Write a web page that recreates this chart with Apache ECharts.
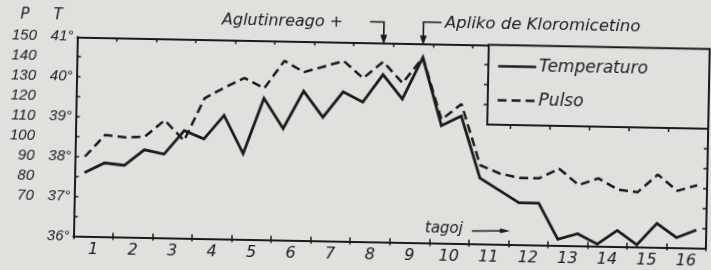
<!DOCTYPE html>
<html>
<head>
<meta charset="utf-8">
<script src="https://cdn.jsdelivr.net/npm/echarts@6/dist/echarts.min.js"></script>
<style>
html,body{margin:0;padding:0;background:#e0e0dd;overflow:hidden;width:711px;height:270px}
#c{width:711px;height:270px;transform:rotate(1.1deg);transform-origin:355.5px 135px}
</style>
</head>
<body>
<div id="c"></div>
<script>
// ---- data (two readings per day: morning, evening) ----
const days = ['1','2','3','4','5','6','7','8','9','10','11','12','13','14','15','16'];
const readings = days.flatMap(d => [d + ' matene', d + ' vespere']);
const temperature = [37.6, 37.85, 37.8, 38.2, 38.1, 38.7, 38.5, 39.1, 38.15, 39.55, 38.8, 39.75, 39.1, 39.75, 39.5, 40.2,
                     39.6, 40.65, 38.95, 39.2, 37.65, 37.35, 37.05, 37.05, 36.15, 36.3, 36.05, 36.4, 36.05, 36.6, 36.25, 36.45];
const pulse = [90, 101, 100, 100.5, 109, 99, 120.5, 126, 131, 126, 140, 134.5, 137.5, 140.5, 132, 140.5,
               130, 143, 112, 120, 89.5, 85.5, 83.5, 83.5, 88.5, 80.5, 84, 78.5, 77.5, 86.5, 78.5, 81.5];
const pulseTickLabels = ['70','80','90','100','110','120','130','140','150'];
const tempTickLabels = ['36°','37°','38°','39°','40°','41°'];
const seriesNames = ['Temperaturo', 'Pulso'];
const headerTexts = ['P', 'T'];
const noteAgglutination = 'Aglutinreago +';
const noteAntibiotic = 'Apliko de Kloromicetino';
const noteDays = 'tagoj';
const agglutinationReading = 15; // index in readings (8 vespere)
const antibioticReading = 17;    // index in readings (9 vespere)

// ---- styling ----
const INK = '#1b1b1b';
const BG = '#e0e0dd';
const TXT = "'DejaVu Sans', sans-serif";
const NUM = "'Liberation Sans', Arial, sans-serif";
const G = {left: 75.5, top: 42.3, width: 632.5, height: 199.1};

const th = 1.1 * Math.PI / 180, S = Math.sin(th), C = Math.cos(th), CX = 355.5, CY = 135;
function U(x, y) { const dx = x - CX, dy = y - CY; return [CX + dx * C + dy * S, CY - dx * S + dy * C]; }

const axisLine = {show: true, lineStyle: {color: INK, width: 2}};
const chart = echarts.init(document.getElementById('c'), null, {renderer: 'canvas'});

const option = {
  backgroundColor: BG,
  animation: false,
  grid: {left: G.left, top: G.top, width: G.width, height: G.height, containLabel: false, outerBoundsMode: 'none'},
  legend: {
    data: seriesNames, orient: 'vertical', left: U(497, 66)[0], top: 54.5,
    itemWidth: 38, itemHeight: 18, itemGap: 16, padding: 0, selectedMode: false, z: 20,
    itemStyle: {opacity: 0, borderWidth: 0},
    lineStyle: {width: 2.4},
    textStyle: {fontFamily: TXT, fontStyle: 'italic', fontSize: 17, color: INK, lineHeight: 18, padding: [0,0,0,-2]}
  },
  xAxis: [
    {type: 'category', data: days, position: 'bottom', boundaryGap: true, axisLine,
     axisTick: {show: true, inside: false, length: 3, interval: 0, lineStyle: {color: INK, width: 1.5}},
     axisLabel: {interval: 0, margin: 5, fontFamily: TXT, fontStyle: 'italic', fontSize: 16, color: INK},
     splitLine: {show: false}},
    {type: 'category', data: readings, boundaryGap: true, show: false},
    {type: 'category', data: days, position: 'top', boundaryGap: true, axisLine,
     axisTick: {show: true, inside: true, length: 4, interval: 0, lineStyle: {color: INK, width: 1.5}},
     axisLabel: {show: false}, splitLine: {show: false}},
    {type: 'category', data: days, position: 'bottom', boundaryGap: true, axisLine,
     axisTick: {show: true, inside: true, length: 4, interval: 0, lineStyle: {color: INK, width: 1.5}},
     axisLabel: {show: false}, splitLine: {show: false}},
    {type: 'value', min: 0, max: days.length, show: false}
  ],
  yAxis: [
    {type: 'value', min: 50, max: 150, interval: 10, position: 'left', axisLine,
     axisTick: {show: true, inside: true, length: 4, lineStyle: {color: INK, width: 1.5}},
     axisLabel: {margin: 40.5, fontFamily: NUM, fontStyle: 'italic', fontSize: 15, color: INK,
                 formatter: v => pulseTickLabels.includes(String(v)) ? String(v) : ''},
     splitLine: {show: false}},
    {type: 'value', min: 36, max: 41, interval: 1, position: 'left',
     axisLine: {show: false}, axisTick: {show: false},
     axisLabel: {margin: 4, fontFamily: NUM, fontStyle: 'italic', fontSize: 15, color: INK,
                 formatter: v => tempTickLabels.includes(v + '°') ? v + '°' : ''},
     splitLine: {show: false}},
    {type: 'value', min: 50, max: 150, interval: 10, position: 'right', axisLine,
     axisTick: {show: true, inside: true, length: 4, lineStyle: {color: INK, width: 1.5}},
     axisLabel: {show: false}, splitLine: {show: false}}
  ],
  series: [
    {name: seriesNames[0], type: 'line', xAxisIndex: 1, yAxisIndex: 1, data: temperature,
     symbol: 'none', z: 5, lineStyle: {color: INK, width: 2.8, join: 'miter'}, itemStyle: {color: INK}},
    {name: seriesNames[1], type: 'line', xAxisIndex: 1, yAxisIndex: 0, data: pulse,
     symbol: 'none', z: 4, lineStyle: {color: INK, width: 2.5, type: [9, 5]}, itemStyle: {color: INK}}
  ]
};
chart.setOption(option);

// ---- annotations ----
const px = (axis, v) => chart.convertToPixel(axis, v);
const gTop = G.top;
const xa = px({xAxisIndex: 1}, readings[agglutinationReading]);
const xb = px({xAxisIndex: 1}, readings[antibioticReading]);
const ya = U(370, 21.7)[1], yb = U(425, 22)[1];
const txt = (x, y, text, size, align) => ({type: 'text', x, y, z: 30,
  style: {text, fill: INK, font: `italic ${size}px ${TXT}`, textAlign: align || 'left', textVerticalAlign: 'middle'}});
const boxLeft = U(488, 86)[0];
const boxBottom = px({yAxisIndex: 0}, 110);
const boxRight = G.left + G.width;
const ticks = [];
[120, 130, 140].forEach(v => { const y = px({yAxisIndex: 0}, v);
  ticks.push({type: 'line', z: 12, shape: {x1: boxLeft - 4, y1: y, x2: boxLeft, y2: y}, style: {stroke: INK, lineWidth: 1.5}}); });
[11, 12, 13, 14, 15].forEach(v => { const x = px({xAxisIndex: 4}, v);
  ticks.push({type: 'line', z: 12, shape: {x1: x, y1: boxBottom, x2: x, y2: boxBottom + 4}, style: {stroke: INK, lineWidth: 1.5}}); });

const pP = U(25, 15), pT = U(58, 15);
const tA = U(222, 20), tB = U(445, 23), tD = U(425, 228), aD1 = U(472, 231), aD2 = U(510, 231);
chart.setOption({graphic: [
  txt(pP[0], pP[1], headerTexts[0], 15, 'center'),
  txt(pT[0], pT[1], headerTexts[1], 15, 'center'),
  txt(tA[0], tA[1], noteAgglutination, 16),
  txt(tB[0], tB[1], noteAntibiotic, 16.5),
  txt(tD[0], tD[1], noteDays, 15),
  {type: 'polyline', z: 30, shape: {points: [[xa - 14, ya], [xa, ya], [xa, gTop - 7]]}, style: {stroke: INK, lineWidth: 1.6, fill: null}},
  {type: 'polygon', z: 30, shape: {points: [[xa - 3.5, gTop - 8], [xa + 3.5, gTop - 8], [xa, gTop + 1.5]]}, style: {fill: INK}},
  {type: 'polyline', z: 30, shape: {points: [[xb + 18, yb], [xb, yb], [xb, gTop - 7]]}, style: {stroke: INK, lineWidth: 1.6, fill: null}},
  {type: 'polygon', z: 30, shape: {points: [[xb - 3.5, gTop - 8], [xb + 3.5, gTop - 8], [xb, gTop + 1.5]]}, style: {fill: INK}},
  {type: 'line', z: 30, shape: {x1: aD1[0], y1: aD1[1], x2: aD2[0] - 8, y2: aD2[1]}, style: {stroke: INK, lineWidth: 1.5}},
  {type: 'polygon', z: 30, shape: {points: [[aD2[0] - 10, aD2[1] - 2.5], [aD2[0] - 10, aD2[1] + 2.5], [aD2[0], aD2[1]]]}, style: {fill: INK}},
  {type: 'rect', z: 10, shape: {x: boxLeft, y: gTop, width: boxRight - boxLeft, height: boxBottom - gTop},
   style: {fill: BG, stroke: INK, lineWidth: 2}},
  ...ticks
]});
</script>
</body>
</html>
